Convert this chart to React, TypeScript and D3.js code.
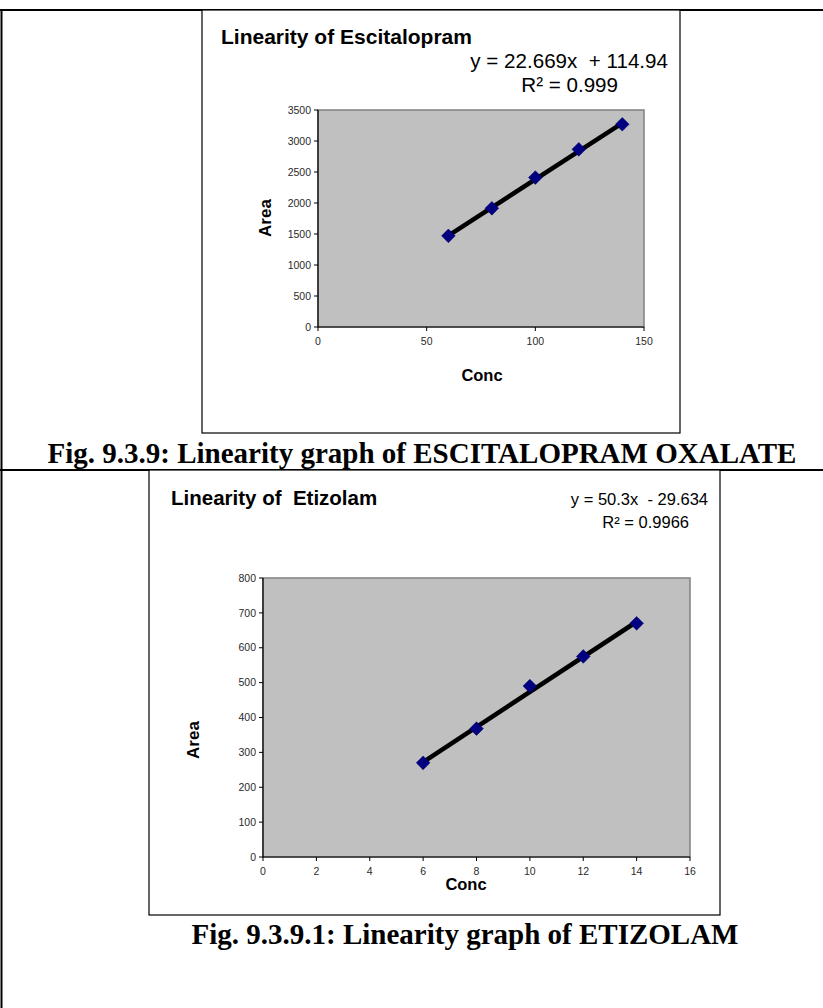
import React from 'react';
import * as d3 from 'd3';

// Escitalopram oxalate linearity
const escConc = [60, 80, 100, 120, 140];
const escArea = [1470, 1915, 2410, 2865, 3270];
const escSlope = 22.669;
const escIntercept = 114.94;
const escXTicks = [0, 50, 100, 150];
const escYTicks = [0, 500, 1000, 1500, 2000, 2500, 3000, 3500];

// Etizolam linearity
const etzConc = [6, 8, 10, 12, 14];
const etzArea = [270, 368, 490, 575, 670];
const etzSlope = 50.3;
const etzIntercept = -29.634;
const etzXTicks = [0, 2, 4, 6, 8, 10, 12, 14, 16];
const etzYTicks = [0, 100, 200, 300, 400, 500, 600, 700, 800];

const sans = "'Liberation Sans', Arial, sans-serif";
const serif = "'Liberation Serif', 'Times New Roman', serif";

type ChartProps = {
  box: { x0: number; y0: number; x1: number; y1: number };
  plot: { x0: number; y0: number; x1: number; y1: number };
  title: string;
  titlePos: [number, number];
  titleSize: number;
  eq: string;
  eqPos: [number, number];
  r2: string;
  r2Pos: [number, number];
  eqSize: number;
  xs: number[];
  ys: number[];
  slope: number;
  intercept: number;
  xTicks: number[];
  yTicks: number[];
  areaPos: [number, number];
  concPos: [number, number];
};

const LinearityChart = (props: ChartProps) => {
  const { box, plot } = props;
  const x = d3.scaleLinear()
    .domain([props.xTicks[0], props.xTicks[props.xTicks.length - 1]])
    .range([plot.x0, plot.x1]);
  const y = d3.scaleLinear()
    .domain([props.yTicks[0], props.yTicks[props.yTicks.length - 1]])
    .range([plot.y1, plot.y0]);

  // trend line over the measured range
  const xmin = d3.min(props.xs) as number;
  const xmax = d3.max(props.xs) as number;
  const trend = d3.line<number>()
    .x(d => x(d))
    .y(d => y(props.slope * d + props.intercept));

  const diamond = d3.symbol().type(d3.symbolDiamond2).size(120)() as string;

  return (
    <g>
      <rect x={box.x0} y={box.y0} width={box.x1 - box.x0} height={box.y1 - box.y0}
        fill="#fff" stroke="#000" strokeWidth={1.2} />
      <text x={props.titlePos[0]} y={props.titlePos[1]} fontFamily={sans} fontWeight="bold"
        fontSize={props.titleSize} fill="#000" style={{ whiteSpace: 'pre' }}>{props.title}</text>
      <text x={props.eqPos[0]} y={props.eqPos[1]} fontFamily={sans} fontSize={props.eqSize}
        textAnchor="end" fill="#000" style={{ whiteSpace: 'pre' }}>{props.eq}</text>
      <text x={props.r2Pos[0]} y={props.r2Pos[1]} fontFamily={sans} fontSize={props.eqSize}
        textAnchor="end" fill="#000">{props.r2}</text>

      {/* plot area */}
      <rect x={plot.x0} y={plot.y0} width={plot.x1 - plot.x0} height={plot.y1 - plot.y0}
        fill="#c0c0c0" stroke="#808080" strokeWidth={1.5} />
      <line x1={plot.x0} x2={plot.x0} y1={plot.y0} y2={plot.y1} stroke="#000" strokeWidth={1.2} />
      <line x1={plot.x0} x2={plot.x1} y1={plot.y1} y2={plot.y1} stroke="#000" strokeWidth={1.2} />

      {props.yTicks.map(t => (
        <g key={'y' + t}>
          <line x1={plot.x0 - 4} x2={plot.x0} y1={y(t)} y2={y(t)} stroke="#000" strokeWidth={1} />
          <text x={plot.x0 - 7} y={y(t)} dy="0.35em" textAnchor="end" fontFamily={sans}
            fontSize={10.5} fill="#2a2a2a">{t}</text>
        </g>
      ))}
      {props.xTicks.map(t => (
        <g key={'x' + t}>
          <line x1={x(t)} x2={x(t)} y1={plot.y1} y2={plot.y1 + 4} stroke="#000" strokeWidth={1} />
          <text x={x(t)} y={plot.y1 + 18} textAnchor="middle" fontFamily={sans}
            fontSize={10.5} fill="#2a2a2a">{t}</text>
        </g>
      ))}

      <path d={trend([xmin, xmax]) as string} stroke="#000" strokeWidth={4.5} fill="none" />
      {props.xs.map((v, i) => (
        <path key={i} d={diamond} transform={`translate(${x(v)},${y(props.ys[i])})`}
          fill="#000080" stroke="#000066" strokeWidth={0.5} />
      ))}

      <text transform={`translate(${props.areaPos[0]},${props.areaPos[1]}) rotate(-90)`}
        textAnchor="middle" fontFamily={sans} fontWeight="bold" fontSize={17} fill="#000">Area</text>
      <text x={props.concPos[0]} y={props.concPos[1]} textAnchor="middle" fontFamily={sans}
        fontWeight="bold" fontSize={16.5} fill="#000">Conc</text>
    </g>
  );
};

const App = () => {
  return (
    <svg width={823} height={1008} style={{ position: 'absolute', left: 0, top: 0, background: '#fff' }}>
      {/* outer table frame */}
      <line x1={0} x2={823} y1={10} y2={10} stroke="#000" strokeWidth={2} />
      <line x1={1.5} x2={1.5} y1={9} y2={1008} stroke="#000" strokeWidth={2} />
      <line x1={0} x2={823} y1={470} y2={470} stroke="#000" strokeWidth={2} />

      <LinearityChart
        box={{ x0: 202, y0: 10, x1: 680, y1: 433 }}
        plot={{ x0: 318, y0: 110, x1: 644, y1: 327 }}
        title="Linearity of Escitalopram"
        titlePos={[221, 44]}
        titleSize={21}
        eq="y = 22.669x  + 114.94"
        eqPos={[668, 68]}
        r2="R² = 0.999"
        r2Pos={[618, 92]}
        eqSize={20.6}
        xs={escConc}
        ys={escArea}
        slope={escSlope}
        intercept={escIntercept}
        xTicks={escXTicks}
        yTicks={escYTicks}
        areaPos={[271, 218]}
        concPos={[482, 381]}
      />
      <text x={422} y={463} textAnchor="middle" fontFamily={serif} fontWeight="bold" fontSize={29}
        fill="#000">Fig. 9.3.9: Linearity graph of ESCITALOPRAM OXALATE</text>

      <LinearityChart
        box={{ x0: 149, y0: 470, x1: 720, y1: 915 }}
        plot={{ x0: 263, y0: 578, x1: 690, y1: 857 }}
        title="Linearity of  Etizolam"
        titlePos={[171, 505]}
        titleSize={20.5}
        eq="y = 50.3x  - 29.634"
        eqPos={[708, 505]}
        r2="R² = 0.9966"
        r2Pos={[689, 528]}
        eqSize={16.5}
        xs={etzConc}
        ys={etzArea}
        slope={etzSlope}
        intercept={etzIntercept}
        xTicks={etzXTicks}
        yTicks={etzYTicks}
        areaPos={[199, 740]}
        concPos={[466, 890]}
      />
      <text x={465} y={944} textAnchor="middle" fontFamily={serif} fontWeight="bold" fontSize={29}
        fill="#000">Fig. 9.3.9.1: Linearity graph of ETIZOLAM</text>
    </svg>
  );
};

export default App;
